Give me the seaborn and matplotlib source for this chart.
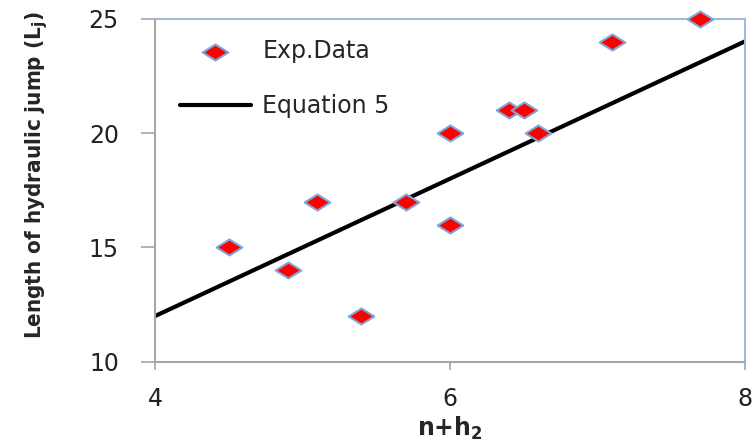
import seaborn as sns
import pandas as pd
from matplotlib import pyplot as plt
from matplotlib.path import Path

n_h2 = [4.5, 4.9, 5.1, 5.4, 5.7, 6.0, 6.0, 6.4, 6.5, 6.6, 7.1, 7.7]
jump_len = [15, 14, 17, 12, 17, 20, 16, 21, 21, 20, 24, 25]

# Equation 5 line end points
eq_x = [4, 8]
eq_y = [12, 24]

sns.set_style("ticks")
plt.rcParams['font.family'] = ['DejaVu Sans']

exp_data = pd.DataFrame({'x': n_h2, 'y': jump_len})
eq_data = pd.DataFrame({'x': eq_x, 'y': eq_y})

# flat diamond like the Excel marker
flat_diamond = Path([(0, 1), (1.6, 0), (0, -1), (-1.6, 0), (0, 1)],
                    [Path.MOVETO, Path.LINETO, Path.LINETO, Path.LINETO, Path.CLOSEPOLY])

fig = plt.figure(figsize=(7.56, 4.44), dpi=100)
ax = fig.add_axes([0.205, 0.185, 0.78, 0.773])

sns.lineplot(data=eq_data, x='x', y='y', ax=ax, color='black', linewidth=3,
             label='Equation 5', zorder=2)
sns.scatterplot(data=exp_data, x='x', y='y', ax=ax, marker=flat_diamond, s=340,
                color='#ff0000', edgecolor='#7ea6d6', linewidth=1.5,
                label='Exp.Data', zorder=3, clip_on=False)

ax.set_xlim(4, 8)
ax.set_ylim(10, 25)
ax.set_xticks([4, 6, 8])
ax.set_yticks([10, 15, 20, 25])
ax.tick_params(axis='both', labelsize=17, labelcolor='#222222')
ax.tick_params(axis='y', direction='out', length=10, width=1.2, color='#a6a6a6', pad=16)
ax.tick_params(axis='x', direction='out', length=6, width=1.2, color='#a6a6a6', pad=12)

for side in ['left', 'bottom']:
    ax.spines[side].set_color('#a6a6a6')
    ax.spines[side].set_linewidth(1.5)
for side in ['top', 'right']:
    ax.spines[side].set_visible(True)
    ax.spines[side].set_color('#9fbbdc')
    ax.spines[side].set_linewidth(1.5)

ax.set_xlabel(r'n+h$_\mathbf{2}$', fontsize=17, fontweight='bold', labelpad=3)
ax.set_ylabel(r'Length of hydraulic jump (L$_\mathbf{j}$)', fontsize=16,
              fontweight='bold', fontstretch='condensed')
ax.yaxis.set_label_coords(-0.178, 0.545)

handles, labels = ax.get_legend_handles_labels()
order = [labels.index('Exp.Data'), labels.index('Equation 5')]
leg = ax.legend([handles[i] for i in order], [labels[i] for i in order],
                loc='upper left', frameon=False, fontsize=17,
                bbox_to_anchor=(0.042, 0.94), borderpad=0, borderaxespad=0,
                handlelength=3.0, labelspacing=1.3, handletextpad=0.5)

fig.savefig('out.png', dpi=100)
